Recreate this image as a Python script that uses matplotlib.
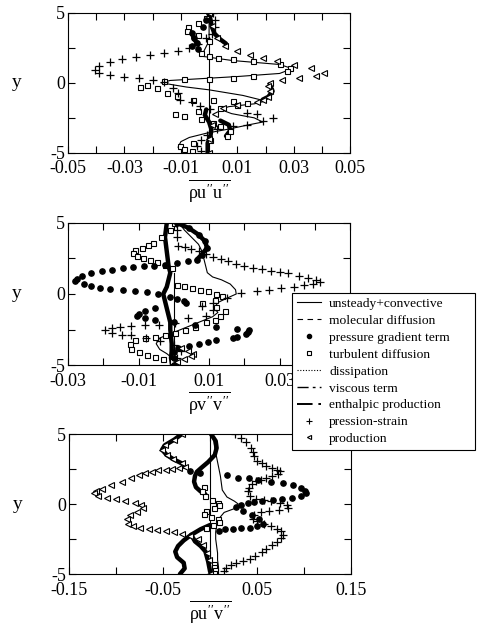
import matplotlib
matplotlib.use('Agg')
import matplotlib.pyplot as plt
from matplotlib.lines import Line2D

plt.rcParams['font.family'] = ['Liberation Serif', 'DejaVu Serif']
plt.rcParams['mathtext.fontset'] = 'custom'
plt.rcParams['mathtext.rm'] = 'Liberation Serif'
plt.rcParams['mathtext.it'] = 'Liberation Serif'

# ---- panel 1 : rho u"u" budget, (y, value) pairs ----
uu_conv = [(5.0, 0.0), (3.0, 0.0), (2.2, -0.002), (1.9, -0.0026), (1.6, 0.008), (1.31, 0.025),
           (1.05, 0.029), (0.9, 0.028), (0.67, 0.025), (0.45, 0.01), (0.17, -0.0138), (0.0, -0.017),
           (-0.3, -0.008), (-0.5, 0.0), (-0.9, 0.012), (-1.3, 0.02), (-1.5, 0.016), (-1.7, 0.007),
           (-1.9, 0.004), (-2.2, 0.008), (-2.5, 0.016), (-2.8, 0.019), (-3.0, 0.014), (-3.3, 0.007),
           (-3.6, -0.001), (-3.9, -0.007), (-4.2, -0.01), (-4.6, -0.011), (-5.0, -0.008)]
uu_turb = [(5.0, 0.0005), (4.6, -0.001), (4.3, -0.004), (4.0, -0.0075), (3.7, -0.008), (3.4, -0.004),
           (3.0, 0.0), (2.14, -0.003), (1.9, 0.0), (1.75, 0.003), (1.67, 0.0086), (1.55, 0.0157),
           (1.31, 0.025), (1.07, 0.0288), (0.83, 0.0276), (0.48, 0.0157), (0.36, 0.0086), (0.29, 0.0),
           (0.24, -0.009), (0.12, -0.016), (-0.12, -0.022), (-0.29, -0.0245), (-0.36, -0.0186),
           (-0.71, -0.015), (-0.95, -0.0115), (-1.19, -0.0056), (-1.19, 0.0015), (-1.31, 0.0086),
           (-1.43, 0.0134), (-1.6, 0.01), (-1.8, 0.004), (-2.0, -0.004), (-2.26, -0.012), (-2.4, -0.009),
           (-2.6, -0.003), (-2.86, 0.0015), (-3.1, 0.004), (-3.45, 0.0075), (-3.8, 0.0063),
           (-4.05, 0.0004), (-4.3, -0.0056), (-4.5, -0.0103), (-4.7, -0.009), (-4.9, -0.006)]
uu_pres = [(5.0, 0.0), (4.5, -0.001), (4.0, -0.002), (3.57, -0.006), (3.2, -0.0055), (2.86, -0.0044),
           (2.6, -0.006), (2.4, -0.004)]
uu_strain = [(5.0, 0.0015), (4.5, 0.002), (4.0, 0.002), (3.5, 0.001), (3.2, -0.001), (2.8, -0.004),
             (2.5, -0.007), (2.3, -0.011), (2.15, -0.016), (2.0, -0.021), (1.85, -0.026), (1.7, -0.031),
             (1.5, -0.035), (1.2, -0.039), (0.9, -0.0405), (0.7, -0.039), (0.55, -0.035), (0.45, -0.03),
             (0.35, -0.025), (0.2, -0.02), (0.05, -0.016), (-0.36, -0.0127), (-0.75, -0.011),
             (-1.19, -0.0103), (-1.4, -0.006), (-1.67, -0.0032), (-1.9, 0.0004), (-2.14, 0.0134),
             (-2.26, 0.017), (-2.5, 0.0228), (-2.74, 0.019), (-2.98, 0.0134), (-3.1, 0.0086),
             (-3.33, 0.0027), (-3.7, -0.0008), (-4.05, -0.003), (-4.5, -0.0044), (-4.9, -0.003)]
uu_prod = [(5.0, 0.0), (4.05, 0.001), (3.2, 0.0027), (2.6, 0.0057), (2.26, 0.0098), (2.0, 0.0146),
           (1.8, 0.019), (1.55, 0.024), (1.3, 0.030), (1.07, 0.036), (0.71, 0.0406), (0.52, 0.038),
           (0.31, 0.032), (0.17, 0.026), (0.0, 0.0217), (-0.24, 0.021), (-0.6, 0.0215),
           (-1.0, 0.021), (-1.2, 0.019), (-1.4, 0.017), (-1.6, 0.01), (-1.8, 0.005), (-2.2, 0.002),
           (-3.0, 0.001), (-4.0, 0.0), (-5.0, 0.0)]
uu_thick = [[(5.0, 0.0), (4.5, 0.0005), (4.0, 0.001), (3.5, 0.002), (3.1, 0.004), (2.8, 0.006)],
            [(3.57, -0.006), (3.2, -0.0055), (2.86, -0.0044)],
            [(-0.1, 0.0215), (-0.6, 0.0225), (-1.0, 0.021), (-1.2, 0.019)],
            [(-1.9, -0.001), (-2.3, -0.0015), (-2.8, 0.0), (-3.3, 0.0008), (-3.8, 0.0005),
             (-4.3, -0.0005), (-5.0, -0.0005)],
            [(-2.7, 0.004), (-3.0, 0.007), (-3.4, 0.0075), (-3.8, 0.006)]]
uu_zero = [(3.3, 0.0), (-4.5, 0.0)]

# ---- panel 2 : rho v"v" budget ----
vv_conv = [(5.0, 0.0015), (4.5, 0.003), (4.0, 0.005), (3.5, 0.007), (3.0, 0.008), (2.5, 0.0085),
           (2.0, 0.009), (1.5, 0.0095), (1.2, 0.011), (1.0, 0.0135), (0.7, 0.016), (0.3, 0.0175),
           (0.0, 0.0177), (-0.3, 0.015), (-0.6, 0.0125), (-1.0, 0.0115), (-1.3, 0.0125),
           (-1.6, 0.011), (-2.0, 0.007), (-2.4, 0.003), (-2.8, -0.001), (-3.1, -0.004),
           (-3.5, -0.005), (-3.9, -0.004), (-4.2, -0.002), (-4.6, 0.0), (-5.0, 0.0)]
vv_turb = [(5.0, 0.0), (4.5, -0.001), (4.0, -0.0035), (3.6, -0.006), (3.45, -0.0072), (3.25, -0.009),
           (3.1, -0.0109), (2.9, -0.0115), (2.65, -0.0105), (2.5, -0.0086), (2.4, -0.0067),
           (2.25, -0.0048), (2.05, -0.0025), (1.8, -0.0006), (0.65, 0.0009), (0.53, 0.0028),
           (0.42, 0.0051), (0.3, 0.0075), (0.19, 0.0098), (0.0, 0.0121), (-0.16, 0.0136),
           (-0.4, 0.0117), (-0.6, 0.008), (-0.9, 0.012), (-1.2, 0.0145), (-1.55, 0.013),
           (-1.8, 0.0117), (-2.0, 0.009), (-2.3, 0.006), (-2.5, 0.0032), (-2.75, 0.0004),
           (-2.9, -0.0025), (-3.0, -0.0053), (-3.1, -0.0081), (-3.25, -0.011), (-3.5, -0.0124),
           (-3.85, -0.012), (-4.1, -0.010), (-4.3, -0.0077), (-4.45, -0.0053), (-4.6, -0.003),
           (-4.75, -0.0006), (-5.0, 0.0)]
vv_pres = [(5.0, 0.0009), (4.65, 0.0042), (4.18, 0.007), (3.7, 0.0089), (3.24, 0.0094), (2.77, 0.0079),
           (2.42, 0.0065), (2.3, 0.004), (2.15, 0.001), (2.05, -0.0025), (2.0, -0.0055),
           (1.95, -0.0085), (1.88, -0.0115), (1.8, -0.0145), (1.7, -0.0175), (1.6, -0.0205),
           (1.45, -0.0235), (1.25, -0.026), (1.05, -0.0275), (0.89, -0.028), (0.7, -0.0255),
           (0.55, -0.0235), (0.42, -0.021), (0.35, -0.018), (0.3, -0.0145), (0.24, -0.011),
           (0.15, -0.0075), (0.0, -0.0045), (-0.2, -0.001), (-0.35, 0.001), (-0.5, 0.003),
           (-0.65, 0.0035), (-0.99, -0.0053), (-1.22, -0.0081), (-1.38, -0.01), (-1.57, -0.0105),
           (-1.69, -0.0081), (-1.81, -0.0053), (-2.0, 0.0), (-2.15, 0.006), (-2.3, 0.012),
           (-2.45, 0.018), (-2.55, 0.0214), (-2.7, 0.021), (-2.85, 0.0205), (-3.0, 0.018),
           (-3.13, 0.0167), (-3.25, 0.012), (-3.38, 0.0098), (-3.52, 0.007), (-3.69, 0.0042),
           (-3.8, 0.0013), (-4.1, 0.0), (-4.5, 0.0), (-5.0, 0.0)]
vv_strain = [(5.0, 0.0005), (4.5, 0.0008), (4.0, 0.001), (3.4, 0.0013), (3.3, 0.0032), (3.2, 0.005),
             (3.0, 0.007), (2.8, 0.009), (2.6, 0.011), (2.45, 0.0135), (2.3, 0.0155), (2.1, 0.0175),
             (1.95, 0.02), (1.85, 0.0225), (1.75, 0.025), (1.65, 0.0275), (1.55, 0.03),
             (1.45, 0.0325), (1.3, 0.0355), (1.15, 0.038), (1.0, 0.0403), (0.87, 0.0414),
             (0.72, 0.0395), (0.6, 0.037), (0.5, 0.034), (0.4, 0.0305), (0.3, 0.027), (0.2, 0.0235),
             (0.1, 0.019), (-0.3, 0.015), (-0.6, 0.011), (-0.85, 0.008), (-1.1, 0.011),
             (-1.57, 0.009), (-1.69, 0.004), (-2.04, 0.0004), (-2.16, -0.0043), (-2.2, -0.0081),
             (-2.28, -0.012), (-2.35, -0.0152), (-2.39, -0.0176), (-2.51, -0.0195), (-2.75, -0.0176),
             (-2.86, -0.0148), (-2.91, -0.012), (-3.1, -0.008), (-3.3, -0.004), (-3.6, 0.0),
             (-4.0, 0.002), (-4.5, 0.001), (-5.0, 0.0)]
vv_prod = [(-3.8, 0.002), (-4.0, 0.004), (-4.2, 0.0055), (-4.4, 0.005), (-4.6, 0.003), (-4.8, 0.001)]
vv_thick = [[(5.0, -0.002), (4.0, -0.0025), (3.0, -0.002), (2.0, -0.0015), (1.5, -0.001),
             (1.0, -0.0015), (0.5, -0.002), (0.0, -0.003), (-0.5, -0.0025), (-1.0, -0.002),
             (-1.5, -0.0015), (-2.0, -0.001), (-2.5, -0.001), (-3.0, -0.0008), (-3.5, -0.0006),
             (-4.0, -0.0006), (-4.5, -0.0008), (-5.0, -0.0005)],
            [(5.0, 0.0009), (4.65, 0.0042), (4.18, 0.007), (3.7, 0.0089), (3.24, 0.0094),
             (2.77, 0.0079), (2.42, 0.0065)]]
vv_zero = [(1.5, 0.0), (-5.0, 0.0)]

# ---- panel 3 : rho u"v" budget ----
uv_conv = [(5.0, 0.003), (4.0, 0.005), (3.0, 0.008), (2.0, 0.011), (1.0, 0.013), (0.5, 0.018),
           (0.2, 0.026), (0.0, 0.03), (-0.3, 0.027), (-0.6, 0.015), (-1.0, 0.01), (-1.5, 0.007),
           (-2.0, 0.006), (-2.5, 0.006), (-3.0, 0.007), (-3.5, 0.008), (-4.0, 0.008), (-4.5, 0.009),
           (-5.0, 0.009)]
uv_turb = [(1.2, -0.006), (0.9, -0.009), (0.6, -0.005), (0.3, 0.002), (0.1, 0.008), (-0.1, 0.009),
           (-0.3, 0.004), (-0.5, -0.004), (-0.7, -0.006), (-0.9, 0.001), (-1.1, 0.008),
           (-1.3, 0.009), (-1.5, 0.003), (-1.7, -0.004), (-4.3, 0.004), (-4.5, 0.004),
           (-4.7, 0.005), (-4.9, 0.004)]
uv_pres = [(2.33, -0.0213), (2.2, -0.011), (2.1, 0.0177), (1.86, 0.030), (1.86, 0.041), (1.74, 0.051),
           (1.6, 0.065), (1.5, 0.078), (1.35, 0.088), (1.15, 0.097), (0.95, 0.101), (0.79, 0.102),
           (0.6, 0.097), (0.45, 0.087), (0.35, 0.076), (0.3, 0.067), (0.22, 0.055), (0.15, 0.047),
           (0.05, 0.04), (-0.1, 0.033), (-0.24, 0.028), (-0.5, 0.035), (-0.8, 0.045), (-1.1, 0.052),
           (-1.4, 0.056), (-1.6, 0.05), (-1.68, 0.042), (-1.72, 0.033), (-1.76, 0.024),
           (-1.8, 0.016), (-1.95, 0.01)]
uv_strain = [(5.0, 0.027), (4.7, 0.033), (4.4, 0.038), (4.0, 0.044), (3.7, 0.046), (3.4, 0.047),
             (3.1, 0.05), (2.9, 0.055), (2.75, 0.06), (2.6, 0.066), (2.45, 0.071), (2.33, 0.074),
             (2.15, 0.072), (2.0, 0.066), (1.86, 0.06), (1.74, 0.054), (1.62, 0.049), (1.4, 0.045),
             (1.15, 0.041), (0.9, 0.04), (0.6, 0.043), (0.38, 0.049), (0.3, 0.057), (0.2, 0.065),
             (0.05, 0.074), (-0.1, 0.082), (-0.25, 0.083), (-0.4, 0.073), (-0.48, 0.063),
             (-0.6, 0.054), (-0.8, 0.047), (-1.05, 0.046), (-1.24, 0.05), (-1.4, 0.057),
             (-1.55, 0.065), (-1.75, 0.071), (-1.95, 0.075), (-2.2, 0.078), (-2.45, 0.075),
             (-2.7, 0.071), (-2.95, 0.066), (-3.2, 0.06), (-3.45, 0.055), (-3.7, 0.048),
             (-3.9, 0.042), (-4.05, 0.035), (-4.2, 0.028), (-4.35, 0.022), (-4.55, 0.017),
             (-4.8, 0.015)]
uv_prod = [(5.0, -0.03), (4.6, -0.038), (4.2, -0.048), (3.88, -0.051), (3.5, -0.046), (3.2, -0.039),
           (2.9, -0.03), (2.65, -0.027), (2.55, -0.033), (2.5, -0.04), (2.45, -0.047),
           (2.4, -0.055), (2.3, -0.062), (2.2, -0.069), (2.05, -0.076), (1.85, -0.084),
           (1.6, -0.094), (1.35, -0.105), (1.1, -0.115), (0.9, -0.121), (0.79, -0.123),
           (0.6, -0.119), (0.45, -0.11), (0.35, -0.1), (0.25, -0.09), (0.1, -0.08), (-0.1, -0.073),
           (-0.29, -0.071), (-0.55, -0.078), (-0.8, -0.085), (-1.1, -0.088), (-1.4, -0.087),
           (-1.6, -0.082), (-1.7, -0.074), (-1.78, -0.065), (-1.85, -0.056), (-1.93, -0.047),
           (-2.0, -0.038), (-2.15, -0.03), (-2.3, -0.021), (-2.5, -0.013), (-2.9, -0.007),
           (-3.5, -0.003), (-4.0, -0.001), (-5.0, 0.0)]
uv_thick = [[(5.0, -0.03), (4.6, -0.038), (4.2, -0.048), (3.88, -0.051), (3.5, -0.046),
             (3.2, -0.039), (2.9, -0.03), (2.65, -0.027)],
            [(5.0, 0.001), (4.5, 0.006), (4.0, 0.007), (3.5, 0.005), (3.0, -0.002), (2.6, -0.009),
             (2.3, -0.014), (2.0, -0.016), (1.6, -0.017), (1.2, -0.015), (0.9, -0.01), (0.7, -0.005)],
            [(-1.5, 0.0), (-1.8, -0.01), (-2.2, -0.02), (-2.6, -0.028), (-3.0, -0.034),
             (-3.4, -0.037), (-3.8, -0.035), (-4.2, -0.028), (-4.6, -0.027), (-5.0, -0.032)],
            [(-2.2, -0.02), (-2.67, -0.016), (-3.0, -0.01), (-3.38, -0.005), (-4.1, -0.002),
             (-4.8, 0.0), (-5.0, 0.001)]]
uv_zero = [(5.0, 0.0), (-5.0, 0.0)]

legend_labels = ['unsteady+convective', 'molecular diffusion', 'pressure gradient term',
                 'turbulent diffusion', 'dissipation', 'viscous term', 'enthalpic production',
                 'pression-strain', 'production']


def xy(pts):
    return [p[1] for p in pts], [p[0] for p in pts]


def draw(ax, conv, turb, pres, strain, prod, thick, zero, xlim, xticks, xlabels, xlabel):
    ax.plot(*xy(zero), color='k', lw=0.8)
    ax.plot(*xy(conv), color='k', lw=0.8)
    for seg in thick:
        ax.plot(*xy(seg), color='k', lw=3.2, solid_capstyle='round')
    ax.plot(*xy(turb), ls='none', marker='s', ms=3.6, mfc='white', mec='k', mew=0.8)
    ax.plot(*xy(pres), ls='none', marker='o', ms=3.8, color='k')
    ax.plot(*xy(strain), ls='none', marker='+', ms=5.5, color='k', mew=0.9)
    ax.plot(*xy(prod), ls='none', marker='<', ms=3.8, mfc='white', mec='k', mew=0.8)
    ax.set_xlim(*xlim)
    ax.set_ylim(-5, 5)
    ax.set_xticks(xticks)
    ax.set_xticklabels(xlabels)
    ax.set_yticks([-5, -2.5, 0, 2.5, 5])
    ax.set_yticklabels(['-5', '', '0', '', '5'])
    ax.tick_params(direction='in', top=True, right=True, length=5, labelsize=13)
    ax.tick_params(axis='x', pad=5.5)
    ax.tick_params(axis='y', pad=2)
    ax.set_xlabel(xlabel, fontsize=13, labelpad=0)
    ax.set_ylabel('y', fontsize=14, rotation=0, labelpad=24, va='center')


fig = plt.figure(figsize=(4.79, 6.29), dpi=100)
ax1 = fig.add_axes([0.142, 0.757, 0.589, 0.2226])
ax2 = fig.add_axes([0.142, 0.4197, 0.589, 0.2258])
ax3 = fig.add_axes([0.144, 0.0874, 0.589, 0.2226])

ticks1 = [-0.05, -0.04, -0.03, -0.02, -0.01, 0.0, 0.01, 0.02, 0.03, 0.04, 0.05]
labels1 = ['-0.05', '', '-0.03', '', '-0.01', '', '0.01', '', '0.03', '', '0.05']
draw(ax1, uu_conv, uu_turb, uu_pres, uu_strain, uu_prod, uu_thick, uu_zero,
     (-0.05, 0.05), ticks1, labels1, r'$\overline{\rho u^{\prime\prime}u^{\prime\prime}}$')

ticks2 = [-0.03, -0.02, -0.01, 0.0, 0.01, 0.02, 0.03, 0.04, 0.05]
labels2 = ['-0.03', '', '-0.01', '', '0.01', '', '0.03', '', '0.05']
draw(ax2, vv_conv, vv_turb, vv_pres, vv_strain, vv_prod, vv_thick, vv_zero,
     (-0.03, 0.05), ticks2, labels2, r'$\overline{\rho v^{\prime\prime}v^{\prime\prime}}$')

ticks3 = [-0.15, -0.1, -0.05, 0.0, 0.05, 0.1, 0.15]
labels3 = ['-0.15', '', '-0.05', '', '0.05', '', '0.15']
draw(ax3, uv_conv, uv_turb, uv_pres, uv_strain, uv_prod, uv_thick, uv_zero,
     (-0.15, 0.15), ticks3, labels3, r'$\overline{\rho u^{\prime\prime}v^{\prime\prime}}$')

handles = [Line2D([], [], color='k', lw=0.8),
           Line2D([], [], color='k', lw=0.8, ls=(0, (5, 4))),
           Line2D([], [], ls='none', marker='o', ms=3, color='k'),
           Line2D([], [], ls='none', marker='s', ms=3, mfc='white', mec='k', mew=0.8),
           Line2D([], [], color='k', lw=0.8, ls=(0, (1, 1.5))),
           Line2D([], [], color='k', lw=1.0, ls=(0, (8, 3, 2, 3))),
           Line2D([], [], color='k', lw=1.4, ls=(0, (8, 3, 2, 3))),
           Line2D([], [], ls='none', marker='+', ms=5, color='k', mew=0.8),
           Line2D([], [], ls='none', marker='<', ms=3, mfc='white', mec='k', mew=0.8)]
leg = fig.legend(handles, legend_labels, loc='upper left',
                 bbox_to_anchor=(0.6096, 0.2766, 0.382, 0.2576), mode='expand',
                 fontsize=9.7, frameon=True, fancybox=False, framealpha=1, edgecolor='k',
                 handlelength=1.8, handletextpad=0.6, labelspacing=0.33, borderpad=0.35,
                 borderaxespad=0)
leg.get_frame().set_linewidth(0.8)

fig.savefig('out.png', dpi=100)
